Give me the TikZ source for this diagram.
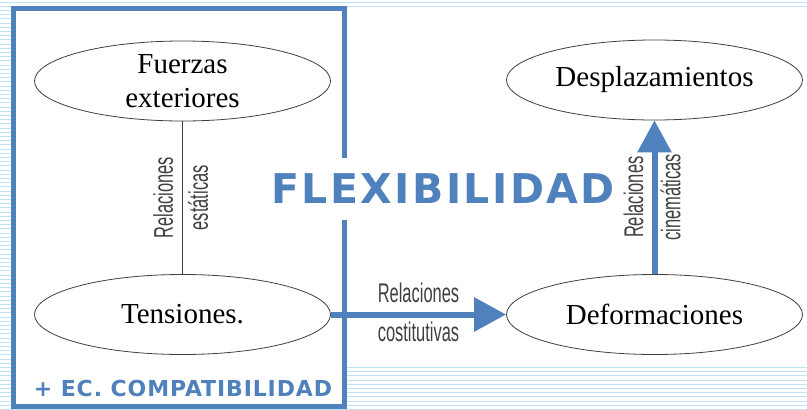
\documentclass[tikz,border=0pt]{standalone}
\usepackage{fontspec}
\setmainfont{Liberation Serif}
\newfontfamily\titlefont[LetterSpace=6]{DejaVu Sans}
\newfontfamily\compatfont[LetterSpace=4]{DejaVu Sans}
\newfontfamily\relfont[FakeStretch=0.61]{Liberation Sans}
\usetikzlibrary{shapes.geometric,arrows.meta}
\definecolor{flexblue}{RGB}{79,129,189}
\definecolor{gridblue}{RGB}{190,228,246}

\begin{document}
\begin{tikzpicture}[x=1pt,y=-1pt,
    ellip/.style={ellipse, draw=black!75, line width=0.8pt, fill=white, minimum width=296pt, minimum height=80pt, inner sep=0pt, align=center, font=\fontsize{29}{34}\selectfont},
    rel/.style={font=\relfont\fontsize{27}{30}\selectfont, text=black!75},
    bluearrow/.style={-{Triangle[length=32pt,width=33pt]}, line width=6pt, flexblue}]
    \useasboundingbox (0,0) rectangle (807,410);
    \foreach \y in {2,6.2,...,410} \draw[gridblue, line width=1pt](0,\y)--(807,\y);
    \fill[white](12,8) rectangle (807,367);
    \draw[flexblue, line width=5pt, fill=white](13.5,8.5) rectangle (344.5,406.5);

    \node[fill=white, text=flexblue, font=\titlefont\bfseries\fontsize{41}{44}\selectfont, text height=29pt, text depth=0pt, inner ysep=16.5pt, inner xsep=4pt] (flex) at (443,189) {FLEXIBILIDAD};
    \node[text=flexblue, font=\compatfont\bfseries\fontsize{22}{24}\selectfont] (compat) at (183,388) {+ EC. COMPATIBILIDAD};

    \node[ellip] (fuerzas) at (182.5,81) {Fuerzas\\exteriores};
    \node[ellip] (tensiones) at (182.5,314.5) {Tensiones.};
    \node[ellip] (desplaz) at (654.5,80) {Desplazamientos};
    \node[ellip] (deform) at (654.5,314.5) {Deformaciones};

    \draw[black!75, line width=0.8pt](fuerzas)--(tensiones)node[midway, rel, rotate=90, anchor=south, inner sep=9pt]{Relaciones}node[midway, rel, rotate=90, anchor=north, inner sep=5pt]{estáticas};
    \draw[bluearrow](tensiones)--(deform)node[midway, rel, anchor=south, inner sep=9pt]{Relaciones}node[midway, rel, anchor=north, inner sep=4pt]{costitutivas};
    \draw[bluearrow](deform)--(desplaz)node[midway, rel, rotate=90, anchor=south, inner sep=8pt]{Relaciones}node[midway, rel, rotate=90, anchor=north, inner sep=3pt]{cinemáticas};
\end{tikzpicture}
\end{document}
